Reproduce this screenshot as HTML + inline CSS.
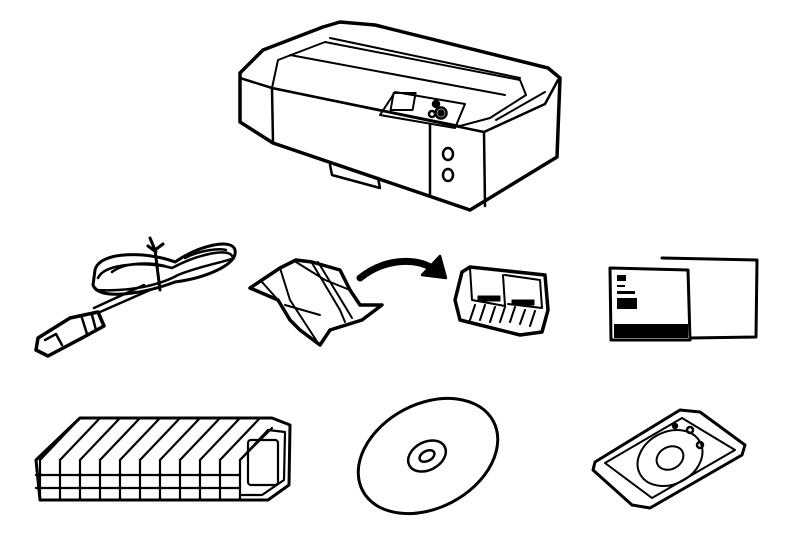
<!DOCTYPE html>
<html><head><style>html,body{margin:0;padding:0;background:#fff}svg{display:block}</style></head>
<body>
<svg width="800" height="535" viewBox="0 0 800 535" xmlns="http://www.w3.org/2000/svg" fill="none" stroke="#000" stroke-width="2.5" stroke-linejoin="round" stroke-linecap="round">
<!-- Printer -->
<g>
<path d="M240,73 L263,50 L323,27 L340,22 L375,25 L548,68 L560,78 L557,157 L470,210 L432,197 L273,143 L240,122 Z" stroke-width="3.5"/>
<path d="M240,78 L272,88 L484,132 L545,104 L558,80"/>
<path d="M272,88 L273,143"/>
<path d="M484,132 L485,206"/>
<path d="M430,125 L430,196"/>
<path d="M272,88 L278,60 L325,42 L520,80 L526,95 L490,118 L460,126 Z" stroke-width="2"/>
<path d="M290,55 L505,95" stroke-width="2"/>
<path d="M330,38 L520,78" stroke-width="2"/>
<path d="M395,92 L380,115 L455,128 L465,104 Z" stroke-width="2"/>
<rect x="410" y="93" width="22" height="17" transform="skewX(-10)" stroke-width="2"/>
<circle cx="436" cy="104" r="3" fill="#000"/>
<circle cx="432" cy="114" r="3"/>
<circle cx="441" cy="113" r="5.5"/>
<circle cx="441" cy="113" r="2.5" fill="#000"/>
<ellipse cx="448" cy="154" rx="5" ry="6"/>
<ellipse cx="448" cy="175" rx="5" ry="6"/>
<path d="M496,120 L545,92" stroke-width="2"/>
<path d="M330,165 L332,175 L380,188 L378,178" stroke-width="2.5"/>
</g>
<!-- Power cord -->
<g stroke-width="2.5">
<path d="M95,270 C100,250 150,252 175,262 C200,245 232,238 235,250 C238,265 205,278 175,282 C140,295 98,300 93,285 Z" stroke-width="3"/>
<path d="M98,278 C105,262 150,262 172,268 C198,254 228,248 232,256"/>
<path d="M96,290 C130,292 160,285 178,275 C200,266 225,262 234,258"/>
<path d="M112,272 C125,262 150,262 165,266 M185,258 C200,250 220,248 226,250"/>
<path d="M150,238 L155,250 L160,290 M155,250 L163,244 M148,246 L156,252" stroke-width="3"/>
<path d="M150,290 L100,312 M144,285 L94,308" stroke-width="2.5"/>
<path d="M38,338 L70,318 L98,312 L104,326 L82,338 L48,356 L36,350 Z" stroke-width="3.5"/>
<path d="M45,340 L56,334 L62,345 M82,318 L87,334 M92,315 L96,330" stroke-width="2.5"/>
</g>
<!-- Printhead package -->
<g>
<path d="M250,288 L262,280 L280,268 L296,260 L312,262 L340,270 L350,290 L360,305 L382,305 L362,320 L330,330 L320,345 L300,330 L290,320 L278,300 Z" stroke-width="3.5"/>
<path d="M280,268 L290,300 L318,343 M296,262 L325,280 L350,290 M312,263 L340,310 L345,322 M318,262 L346,308 L352,318" stroke-width="2"/>
<path d="M262,282 L278,300 M285,305 L320,315" stroke-width="2"/>
</g>
<!-- Arrow -->
<path d="M360,278 C385,258 415,258 432,268" stroke-width="7"/>
<path d="M422,275 L446,278 L440,256 Z" fill="#000"/>
<!-- Printhead -->
<g>
<path d="M462,272 L470,267 L545,275 L548,310 L542,332 L520,335 L480,325 L460,320 L455,300 Z" stroke-width="3.5"/>
<path d="M470,268 L472,300 L505,306 L503,275 M505,275 L540,280 L542,308 L508,304" stroke-width="2"/>
<path d="M475,305 L470,320 M485,305 L480,320 M495,307 L490,322 M505,307 L500,322 M515,307 L510,322 M525,310 L520,324 M535,311 L530,326" stroke-width="2"/>
<rect x="478" y="296" width="22" height="5" fill="#000" stroke-width="1"/>
<rect x="512" y="300" width="22" height="5" fill="#000" stroke-width="1"/>
</g>
<!-- Manuals -->
<g>
<path d="M662,258 L757,260 L756,337 L690,338" stroke-width="3"/>
<path d="M610,268 L688,270 L690,340 L611,340 Z" stroke-width="3"/>
<rect x="617" y="275" width="9" height="6" fill="#000" stroke="none"/>
<rect x="617" y="285" width="8" height="2" fill="#000" stroke="none"/>
<rect x="617" y="291" width="18" height="3" fill="#000" stroke="none"/>
<rect x="617" y="298" width="20" height="11" fill="#000" stroke="none"/>
<rect x="614" y="324" width="74" height="14" fill="#000" stroke="none"/>
</g>
<!-- Ink cartridges -->
<g stroke-width="2.2">
<path d="M36,460 L80,418 L272,418 L290,425 L289,485 L268,500 L40,500 Z" stroke-width="3"/>
<path d="M40,460 L40,500 M60,460 L60,500 M80,460 L80,500 M100,460 L100,500 M120,460 L120,500 M140,460 L140,500 M160,460 L160,500 M180,460 L180,500 M200,460 L200,500 M220,460 L220,500 M240,460 L240,500"/>
<path d="M40,460 L80,418 M60,460 L100,418 M80,460 L120,418 M100,460 L140,418 M120,460 L160,418 M140,460 L180,418 M160,460 L200,418 M180,460 L220,418 M200,460 L240,418 M220,460 L260,418 M240,460 L272,428"/>
<path d="M240,460 L268,430 L285,432 L284,480 L262,495 L242,495"/>
<rect x="248" y="440" width="30" height="45" rx="3"/>
<path d="M36,475 L240,475 M36,488 L240,488"/>
</g>
<!-- Disc -->
<ellipse cx="428" cy="456" rx="74" ry="52" transform="rotate(-28 428 456)" stroke-width="3"/>
<ellipse cx="427" cy="456" rx="20" ry="14" transform="rotate(-28 427 456)" stroke-width="2.5"/>
<ellipse cx="427" cy="456" rx="8" ry="5" transform="rotate(-28 427 456)" stroke-width="2.5"/>
<!-- Disc tray -->
<g>
<path d="M595,462 L680,410 L700,412 L745,445 L742,455 L650,508 L632,505 L593,470 Z" stroke-width="3"/>
<path d="M605,463 L682,418 L735,450 L652,498 Z" stroke-width="2"/>
<ellipse cx="670" cy="458" rx="34" ry="26" transform="rotate(-28 670 458)" stroke-width="2"/>
<ellipse cx="670" cy="458" rx="14" ry="11" transform="rotate(-28 670 458)" stroke-width="2"/>
<circle cx="690" cy="430" r="3"/>
<circle cx="700" cy="445" r="3"/>
<circle cx="675" cy="426" r="2" fill="#000"/>
</g>
</svg>
</body></html>
